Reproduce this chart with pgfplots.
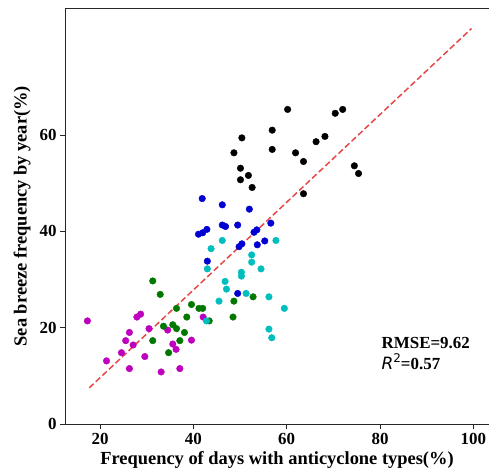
\documentclass[border=0pt]{standalone}
\usepackage{fontspec}
\setmainfont{Liberation Serif}
\newfontfamily\djv{DejaVu Sans}
\usepackage{pgfplots}
\pgfplotsset{compat=1.18}
\definecolor{cblack}{RGB}{0,0,0}
\definecolor{cblue}{RGB}{0,0,210}
\definecolor{ccyan}{RGB}{0,190,190}
\definecolor{cgreen}{RGB}{0,120,0}
\definecolor{cmag}{RGB}{190,0,190}
\definecolor{cred}{RGB}{225,40,40}
\begin{document}
\begin{tikzpicture}
\begin{axis}[
  scale only axis,
  width=424bp, height=415.7bp,
  xmin=12.5, xmax=103.35, ymin=0, ymax=86.3,
  axis x line*=bottom, axis y line*=left,
  axis line style={line width=0.9bp, black!85},
  xtick={20,40,60,80,100}, ytick={0,20,40,60},
  tick align=outside,
  major tick length=5bp,
  tick style={line width=0.9bp, black!85},
  /pgf/number format/assume math mode=true,
  ticklabel style={font=\fontsize{17}{17}\selectfont\bfseries},
  xticklabel style={yshift=-1bp},
  xlabel={Frequency of days with anticyclone types(\%)},
  ylabel={Sea breeze frequency by year(\%)},
  label style={font=\fontsize{18.5}{18.5}\selectfont\bfseries},
  xlabel style={at={(axis description cs:0.5,0)}, anchor=base, yshift=-41bp},
  ylabel style={at={(axis description cs:-0.1014,0.5)}, anchor=center},
  every axis plot/.append style={only marks, mark=*, mark size=3.3bp},
]
\addplot[mark options={fill=cmag, draw=cmag}] coordinates {
(17.3,21.4) (27.9,22.2) (28.7,22.8) (30.5,19.8) (34.5,19.5) (26.3,19.0) (25.5,17.3)
(27.1,16.4) (24.6,14.8) (29.6,14.0) (21.4,13.1) (26.3,11.5) (33.1,10.8) (37.1,11.5)
(35.6,16.6) (36.3,15.5) (39.6,17.4) (42.1,22.2)
};
\addplot[mark options={fill=cgreen, draw=cgreen}] coordinates {
(31.3,29.7) (32.9,26.9) (36.4,24.0) (39.6,24.8) (41.2,24.0) (42.0,24.0) (38.6,22.2)
(43.4,21.4) (48.5,22.2) (48.7,25.5) (52.8,26.4) (33.6,20.3) (35.6,20.6) (36.4,19.8)
(38.1,19.0) (31.3,17.3) (37.1,17.3) (34.7,14.8)
};
\addplot[mark options={fill=ccyan, draw=ccyan}] coordinates {
(57.7,38.1) (46.2,38.1) (43.8,36.4) (43.0,32.2) (52.5,35.1) (52.5,33.6) (54.5,32.2)
(50.3,31.5) (50.3,30.7) (46.8,29.6) (47.1,28.0) (51.3,27.1) (56.2,26.4) (45.5,25.5)
(59.5,24.0) (56.2,19.7) (56.8,17.9) (42.8,21.4)
};
\addplot[mark options={fill=cblue, draw=cblue}] coordinates {
(41.9,46.8) (46.2,45.5) (52.0,44.6) (46.2,41.3) (46.9,41.0) (49.5,41.3) (56.6,41.7)
(41.1,39.4) (42.0,39.7) (42.9,40.4) (53.0,39.8) (53.6,40.3) (49.8,36.8) (50.4,37.4)
(53.7,37.2) (55.3,38.0) (43.0,33.8) (49.5,27.1)
};
\addplot[mark options={fill=cblack, draw=cblack}] coordinates {
(60.2,65.3) (70.4,64.5) (72.0,65.3) (56.9,61.0) (50.4,59.4) (48.7,56.3) (61.9,56.3)
(56.9,57.0) (66.3,58.6) (68.2,59.7) (63.6,54.5) (74.5,53.6) (75.4,52.0) (50.1,53.1)
(51.8,51.6) (50.1,50.7) (52.6,49.1) (63.6,47.8)
};
\addplot[no marks, sharp plot, draw=cred, line width=1.5bp, opacity=0.85,
  dash pattern=on 6bp off 3bp] coordinates {(17.7,7.5) (99.6,82.1)};
\node[anchor=base west, inner sep=0pt, font=\fontsize{17}{17}\selectfont\bfseries]
  at (axis cs:80.3,15.6) {RMSE=9.62};
\node[anchor=base west, inner sep=0pt, font=\fontsize{17}{17}\selectfont\bfseries]
  at (axis cs:80.3,11.3) {{\djv\mdseries\itshape R}\raisebox{0.42em}{\djv\mdseries\fontsize{12}{12}\selectfont 2}=0.57};
\end{axis}
\draw[line width=0.9bp, black!85] (current axis.north west) -- (current axis.north east);
\pgfresetboundingbox
\path ([xshift=-65bp,yshift=-49bp]current axis.south west) rectangle ([yshift=8.3bp]current axis.north east);
\end{tikzpicture}
\end{document}
